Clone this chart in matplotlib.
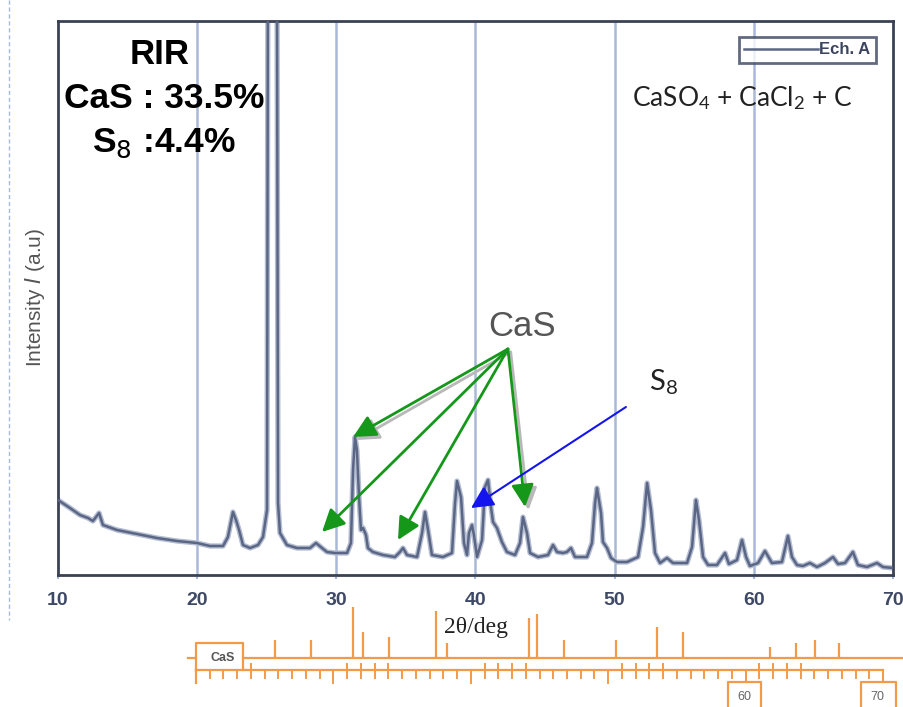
import matplotlib
matplotlib.use('Agg')
import matplotlib.pyplot as plt
from matplotlib.lines import Line2D
import numpy as np

# XRD pattern of sample "Ech. A" (traced points, 2theta in deg, intensity in a.u.)
two_theta = [10.0, 10.86, 11.58, 12.16, 12.51, 12.95, 13.23, 14.24, 15.68, 17.11,
             18.55, 19.99, 20.92, 21.86, 22.21, 22.57, 22.79, 23.01, 23.29, 23.80,
             24.37, 24.73, 25.02, 25.15, 25.65, 25.81, 25.95, 26.45, 27.17, 28.11,
             28.54, 28.97, 29.33, 29.90, 30.77, 31.05, 31.20, 31.34, 31.48, 31.63,
             31.77, 31.92, 32.13, 32.27, 32.63, 33.35, 34.21, 34.57, 34.79, 35.08,
             35.80, 36.16, 36.37, 36.59, 36.87, 37.66, 38.31, 38.53, 38.67, 38.96,
             39.17, 39.39, 39.53, 39.75, 39.89, 40.11, 40.47, 40.68, 40.90, 41.11,
             41.26, 41.54, 41.90, 42.26, 42.84, 43.20, 43.41, 43.70, 43.92, 44.49,
             45.21, 45.57, 45.86, 46.29, 46.57, 46.86, 47.15, 48.01, 48.37, 48.59,
             48.73, 49.02, 49.16, 49.45, 49.74, 50.17, 50.89, 51.68, 52.04, 52.33,
             52.61, 52.90, 53.26, 53.76, 54.19, 55.20, 55.56, 55.84, 56.06, 56.35,
             56.71, 57.35, 57.93, 58.21, 58.79, 59.15, 59.44, 59.72, 60.30, 60.80,
             61.30, 62.02, 62.45, 62.74, 63.10, 63.53, 64.03, 64.54, 65.11, 65.69,
             66.05, 66.55, 67.12, 67.48, 68.13, 68.85, 69.28, 70.0]
intensity = [75, 67, 60, 57, 54, 62, 50, 45, 41, 37,
             34, 32, 29, 29, 38, 63, 55, 45, 30, 27,
             30, 38, 65, 1200, 1200, 72, 42, 30, 27, 27,
             32, 27, 23, 22, 22, 32, 105, 138, 125, 78,
             45, 47, 40, 27, 23, 20, 18, 23, 27, 20,
             18, 42, 63, 45, 20, 18, 22, 72, 94, 78,
             32, 20, 42, 50, 40, 18, 35, 88, 95, 68,
             53, 47, 33, 23, 20, 32, 58, 42, 22, 18,
             20, 30, 23, 22, 23, 27, 18, 18, 32, 72,
             87, 62, 33, 27, 17, 13, 13, 18, 48, 92,
             65, 22, 12, 17, 12, 12, 28, 75, 55, 18,
             10, 10, 22, 11, 15, 35, 18, 9, 12, 24,
             12, 13, 39, 18, 10, 9, 12, 8, 12, 18,
             11, 12, 23, 10, 8, 12, 8, 7]

# CaS reference card (stick pattern, relative intensity %)
card_pos = [25.75, 28.37, 31.43, 32.15, 34.05, 37.47, 38.27, 44.24, 44.82,
            46.78, 50.57, 53.55, 55.44, 61.78, 63.67, 65.05, 66.80]
card_int = [35, 35, 100, 51, 41, 92, 29, 78, 86,
            35, 35, 61, 51, 22, 29, 35, 29]

# arrows: label anchor -> peaks
cas_label = (42.33, 226)
cas_peaks = [(31.20, 138), (28.97, 43), (34.43, 35), (43.56, 68)]
s8_start = (50.81, 168)
s8_peak = (39.68, 67)

gridlines = [20, 30, 40, 50, 60]
xticks = [10, 20, 30, 40, 50, 60, 70]

plt.rcParams['mathtext.fontset'] = 'custom'
plt.rcParams['mathtext.rm'] = 'Lato'
plt.rcParams['mathtext.it'] = 'Lato:italic'

W, H = 904, 707
fig = plt.figure(figsize=(W / 100, H / 100), dpi=100)

def px_box(l, t, r, b):
    return [l / W, 1 - b / H, (r - l) / W, (b - t) / H]

ax = fig.add_axes(px_box(58, 21, 893, 575))
ax.set_xlim(10, 70)
ax.set_ylim(0, 554)

for g in gridlines:
    ax.axvline(g, color='#a9b8d9', lw=1.8, zorder=1)

ax.plot(two_theta, intensity, color='#b4bdd2', lw=3.8, solid_joinstyle='round', zorder=2)
ax.plot(two_theta, intensity, color='#5a6684', lw=1.8, solid_joinstyle='round',
        zorder=3, label='Ech. A')

for sp in ax.spines.values():
    sp.set_color('#3b4253')
    sp.set_linewidth(2)
ax.set_yticks([])
ax.set_xticks(xticks)
ax.tick_params(axis='x', length=3, width=1.5, color='#a9b8d9', pad=9)
for lab in ax.get_xticklabels():
    lab.set_family('Liberation Sans')
    lab.set_weight('bold')
    lab.set_fontsize(14)
    lab.set_color('#3e4966')

leg = ax.legend(loc='upper right', bbox_to_anchor=(0.98, 0.972), borderaxespad=0,
                fancybox=False, handlelength=4.4, handletextpad=0.1,
                borderpad=0.35, prop={'family': 'Liberation Sans', 'weight': 'bold', 'size': 12})
leg.get_frame().set_edgecolor('#3c4560')
leg.get_frame().set_linewidth(2)
for t in leg.get_texts():
    t.set_color('#3b4560')

# arrows
head = 34
for tip in (cas_peaks[0], cas_peaks[3]):
    ax.annotate('', xy=(tip[0] + 0.25, tip[1] - 3), xytext=(cas_label[0] + 0.2, cas_label[1] - 3),
                arrowprops=dict(arrowstyle='-|>', mutation_scale=head, color='#b8b8b8',
                                lw=2, shrinkA=0, shrinkB=0),
                zorder=4)
for tip in cas_peaks:
    ax.annotate('', xy=tip, xytext=cas_label,
                arrowprops=dict(arrowstyle='-|>', mutation_scale=head, color='#15971a',
                                lw=2, shrinkA=0, shrinkB=0),
                zorder=5)
ax.annotate('', xy=s8_peak, xytext=s8_start,
            arrowprops=dict(arrowstyle='-|>', mutation_scale=head, color='#1414ee',
                            lw=1.5, shrinkA=0, shrinkB=0),
            zorder=5)

ax.text(43.34, 248, 'CaS', family='Liberation Sans', size=25, color='#555555',
        ha='center', va='center')
ax.text(52.5, 193, 'S$_8$', family='Lato', size=21, color='#222222',
        ha='left', va='center')
ax.text(0.819, 0.861, 'CaSO$_4$ + CaCl$_2$ + C', transform=ax.transAxes,
        family='Lato', size=19, color='#222222', ha='center', va='center')

ax.text(0.122, 0.939, 'RIR', transform=ax.transAxes, family='Liberation Sans',
        weight='bold', size=25, ha='center', va='center')
ax.text(0.127, 0.861, 'CaS : 33.5%', transform=ax.transAxes, family='Liberation Sans',
        weight='bold', size=25.5, ha='center', va='center')
ax.text(0.127, 0.780, 'S$_8$ :4.4%', transform=ax.transAxes, family='Liberation Sans',
        weight='bold', size=25.5, ha='center', va='center', math_fontfamily='dejavusans')

fig.text(35 / W, 1 - 297 / H, 'Intensity $I$ (a.u)', rotation=90, family='Liberation Sans',
         size=15, color='#555555', ha='center', va='center', math_fontfamily='dejavusans')
fig.add_artist(Line2D([9 / W, 9 / W], [1, 1 - 620 / H], transform=fig.transFigure,
                      ls=(0, (3, 2)), color='#a9b9dd', lw=1))
fig.text(476 / W, 1 - 628 / H, '2θ/deg', family='Liberation Serif', size=17,
         color='#222222', ha='center', va='center')

# reference card strip underneath
orange = '#f29a48'
bx = fig.add_axes(px_box(150, 600, 904, 707))
bx.set_xlim(20 + (150 - 196) / 13.74, 20 + (904 - 196) / 13.74)
bx.set_ylim(-49, 58)
bx.axis('off')
bx.patch.set_alpha(0)

scale = 0.51
bx.vlines(card_pos, 0, np.array(card_int) * scale, color=orange, lw=1.6)
bx.plot([19.42, 20], [0, 0], color=orange, lw=1.6)
bx.plot([23.42, 72], [0, 0], color=orange, lw=1.6, clip_on=False)
# CaS box
bx.plot([20, 20, 23.42, 23.42], [-12, 15, 15, -12], color=orange, lw=1.6)
bx.text(21.95, 0, 'CaS', family='Liberation Sans', weight='bold', size=9,
        color='#555555', ha='center', va='center')
# 2theta scale of the card
bx.plot([20, 70], [-12, -12], color=orange, lw=1.6)
for d in range(20, 71):
    low = -25 if d % 10 == 0 else -20
    if d in (60, 70):
        low = -24
    bx.plot([d, d], [-12, low], color=orange, lw=1.4)
    if d % 10 in (1, 2, 3, 4) and d >= 24:
        bx.plot([d, d], [-12, -6], color=orange, lw=1.4)
bx.plot([20, 20], [-12, -25], color=orange, lw=1.6)
for lbl, l, r, c in [('60', 58.72, 61.12, 59.92), ('70', 68.40, 70.95, 69.56)]:
    bx.plot([l, l, r, r], [-60, -24, -24, -60], color=orange, lw=1.6, clip_on=True)
    bx.text(c, -39, lbl, family='Liberation Sans', size=9, color='#666666',
            ha='center', va='center')

fig.savefig('out.png', dpi=100)
